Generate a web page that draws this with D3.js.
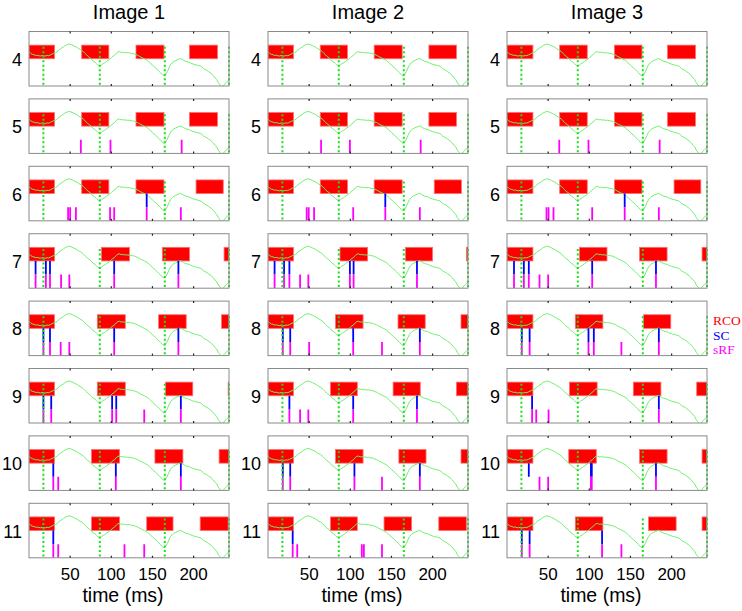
<!DOCTYPE html>
<html>
<head>
<meta charset="utf-8">
<script src="https://cdn.jsdelivr.net/npm/d3@7"></script>
<style>
  body { margin: 0; background: #fff; }
  svg { display: block; font-family: "Liberation Sans", Arial, sans-serif; }
</style>
</head>
<body>
<div id="chart"></div>
<script>
// panel rows (labels) and columns (titles)
var rows = [4, 5, 6, 7, 8, 9, 10, 11];
var images = ["Image 1", "Image 2", "Image 3"];
var xTicks = [50, 100, 150, 200];

// green reference waveform (same in every panel)
var waveT = [0, 2, 4, 6, 8, 10, 12, 14, 16, 18, 20, 22, 24, 26, 28, 30, 32, 34, 36, 38, 40, 42, 44, 46, 48, 50, 52, 54, 56, 58, 60, 62, 64, 66, 68, 70, 72, 74, 76, 78, 80, 82, 84, 86, 88, 90, 92, 94, 96, 98, 100, 102, 104, 106, 108, 110, 112, 114, 116, 118, 120, 122, 124, 126, 128, 130, 132, 134, 136, 138, 140, 142, 144, 146, 148, 150, 152, 154, 156, 158, 160, 162, 164, 166, 168, 170, 172, 174, 176, 178, 180, 182, 184, 186, 188, 190, 192, 194, 196, 198, 200, 202, 204, 206, 208, 210, 212, 214, 216, 218, 220, 222, 224, 226, 228, 230, 232, 234, 236, 238, 240, 243];
var waveV = [0.63, 0.60, 0.58, 0.575, 0.56, 0.565, 0.555, 0.55, 0.56, 0.555, 0.55, 0.56, 0.555, 0.57, 0.585, 0.60, 0.61, 0.625, 0.66, 0.68, 0.70, 0.72, 0.745, 0.755, 0.77, 0.765, 0.755, 0.74, 0.725, 0.71, 0.69, 0.67, 0.655, 0.63, 0.60, 0.57, 0.54, 0.52, 0.49, 0.455, 0.44, 0.41, 0.38, 0.37, 0.385, 0.41, 0.425, 0.45, 0.47, 0.49, 0.52, 0.545, 0.565, 0.60, 0.625, 0.63, 0.615, 0.62, 0.61, 0.615, 0.605, 0.61, 0.60, 0.595, 0.59, 0.575, 0.565, 0.545, 0.53, 0.515, 0.50, 0.485, 0.47, 0.44, 0.41, 0.385, 0.355, 0.33, 0.30, 0.27, 0.24, 0.205, 0.185, 0.205, 0.26, 0.33, 0.39, 0.425, 0.45, 0.465, 0.48, 0.49, 0.505, 0.49, 0.47, 0.455, 0.445, 0.44, 0.425, 0.41, 0.40, 0.39, 0.385, 0.375, 0.37, 0.35, 0.32, 0.30, 0.29, 0.265, 0.245, 0.22, 0.19, 0.15, 0.12, 0.06, 0.02, -0.01, 0.0, 0.04, 0.07, 0.11];

// green dotted markers
var markerT = [17.5, 86, 165, 243];

// RCO intervals [start, end] per row
var rcoImage1 = [
  [[0,31],[64,97],[130,164],[195,229]],
  [[0,31],[64,97],[130,164],[195,229]],
  [[0,31],[64,97],[130,164],[203,236]],
  [[0,31],[88,122],[162,195],[237,243]],
  [[0,31],[83,117],[157.5,191],[234,243]],
  [[0,31],[83,117],[166,199],[242,243]],
  [[0,31],[76,110],[153,187],[231,243]],
  [[0,31],[76,110],[143,175],[208,242]]
];
var rcoImage2 = [
  [[0,31],[63.5,96.5],[129,163],[195.5,229]],
  [[0,31],[63.5,96.5],[129,163],[195.5,229]],
  [[0,31],[63.5,96.5],[129,163],[202,235]],
  [[0,31],[87.5,121],[167,200],[241,243]],
  [[0,31],[82,115.5],[158,191],[234.5,243]],
  [[0,31],[76,108.5],[152,185],[229,243]],
  [[0,31],[82,115.5],[159,192],[234.5,243]],
  [[0,31],[76,108.5],[141,174.5],[207.5,241]]
];
var rcoImage3 = [
  [[0,31.5],[64,97.5],[130.5,164],[195,229]],
  [[0,31.5],[64,97.5],[130.5,164],[195,229]],
  [[0,31.5],[64,97.5],[130.5,164],[203,235.5]],
  [[0,31.5],[88,121.5],[161,194.5],[237,243]],
  [[0,31.5],[83,116.5],[166,199]],
  [[0,31.5],[76,109.5],[153.5,187],[230.5,243]],
  [[0,31.5],[75,108.5],[161,194.5],[237,243]],
  [[0,31.5],[83,116.5],[172,205.5],[237,243]]
];

// SC spike times per row
var scImage1 = [[], [], [143], [8,20.5,25.5,103.5,181.5], [17.5,25.5,103.5,181.5], [17.5,27,101,106,184.5], [29.5,105.5,184.5], [29.5]];
var scImage2 = [[], [], [142.5], [8,19.5,26,99.5,104,181], [18,27,103.5,184.5], [26,103.5,181], [18,27,105,184.5], [30]];
var scImage3 = [[], [], [143], [8.5,20.5,26.5,103.5,181], [18,27.5,99,105.5,184.5], [30.5,184.5], [26.5,102,103,181], [18,27.5,115.5]];

// sRF spike times per row
var srfImage1 = [[], [63,99,185.5], [47.5,50,57,98.5,103.5,143,184.5], [8,20.5,25.5,39,49,103.5,181.5], [17.5,25.5,38.5,49,103.5,181.5], [17.5,27,101,106,140,184.5], [29.5,35.5,105.5,184.5], [29.5,35.5,116,140]];
var srfImage2 = [[], [64.5,99.5,185.5], [47,49.5,56,103.5,142.5,184.5], [8,19.5,26,39,49,99.5,104,181], [18,27,50,103.5,138.5,184.5], [26,39,49,103.5,181], [18,27,105,138.5,184.5], [30,35.5,114,116.5,138.5]];
var srfImage3 = [[], [63.5,99,185.5], [48,50.5,56.5,103.5,143,184.5], [8.5,20.5,26.5,39.5,50,103.5,181], [18,27.5,99,105.5,139,184.5], [30.5,35.5,50.5,184.5], [39.5,50,102,103,181], [18,27.5,115.5,139]];

var legendItems = [["RCO", "#ff0000"], ["SC", "#0000ff"], ["sRF", "#ff00ff"]];

var rco = [rcoImage1, rcoImage2, rcoImage3],
    sc = [scImage1, scImage2, scImage3],
    srf = [srfImage1, srfImage2, srfImage3];

var svg_width = 742, svg_height = 611,
    col_x = [29, 268, 507],
    panel_w = 200,
    top0 = 31.5,
    row_step = 67.4,
    panel_h = 54.5;

var svg = d3.select("#chart").append("svg")
  .attr("width", svg_width)
  .attr("height", svg_height);

var x = d3.scaleLinear().domain([0, 243]).range([0, panel_w]);
var y = d3.scaleLinear().domain([0, 1]).range([panel_h, 0]);

var wave = d3.line()
  .x(function (d) { return x(d[0]); })
  .y(function (d) { return y(d[1]); });
var waveData = waveT.map(function (t, i) { return [t, waveV[i]]; });

svg.append("defs").append("clipPath").attr("id", "panel-clip")
  .append("rect").attr("width", panel_w).attr("height", panel_h);

images.forEach(function (title, c) {
  svg.append("text")
    .attr("x", col_x[c] + panel_w / 2)
    .attr("y", 19)
    .attr("text-anchor", "middle")
    .style("font-size", "20px")
    .text(title);

  rows.forEach(function (rowLabel, r) {
    var g = svg.append("g")
      .attr("transform", "translate(" + col_x[c] + "," + (top0 + r * row_step) + ")");

    g.append("text")
      .attr("x", -7)
      .attr("y", panel_h / 2 + 7)
      .attr("text-anchor", "end")
      .style("font-size", "18px")
      .text(rowLabel);

    var inner = g.append("g").attr("clip-path", "url(#panel-clip)");

    inner.selectAll("rect.rco")
      .data(rco[c][r]).enter().append("rect")
      .attr("class", "rco")
      .attr("x", function (d) { return x(d[0]); })
      .attr("width", function (d) { return x(d[1]) - x(d[0]); })
      .attr("y", y(0.75))
      .attr("height", y(0.5) - y(0.75))
      .attr("fill", "#ff0000")
      .attr("stroke", "#ff7070")
      .attr("stroke-width", 0.8);

    inner.append("path")
      .datum(waveData)
      .attr("d", wave)
      .attr("fill", "none")
      .attr("stroke", "#6cf06c")
      .attr("stroke-width", 1);

    inner.selectAll("line.sc")
      .data(sc[c][r]).enter().append("line")
      .attr("x1", function (d) { return x(d); })
      .attr("x2", function (d) { return x(d); })
      .attr("y1", y(0.5)).attr("y2", y(0.25))
      .attr("stroke", "#0000ff")
      .attr("stroke-width", 1.8);

    inner.selectAll("line.srf")
      .data(srf[c][r]).enter().append("line")
      .attr("x1", function (d) { return x(d); })
      .attr("x2", function (d) { return x(d); })
      .attr("y1", y(0.25)).attr("y2", y(0))
      .attr("stroke", "#ff00ff")
      .attr("stroke-width", 1.8);

    g.selectAll("line.marker")
      .data(markerT).enter().append("line")
      .attr("x1", function (d) { return x(d); })
      .attr("x2", function (d) { return x(d); })
      .attr("y1", y(0.72)).attr("y2", y(0))
      .attr("stroke", "#19e019")
      .attr("stroke-width", 2)
      .attr("stroke-dasharray", "2,2.5");

    g.append("rect")
      .attr("width", panel_w).attr("height", panel_h)
      .attr("fill", "none")
      .attr("stroke", "#8a8a8a")
      .attr("stroke-width", 1);

    g.selectAll("line.tick-top")
      .data(xTicks).enter().append("line")
      .attr("x1", function (d) { return x(d); })
      .attr("x2", function (d) { return x(d); })
      .attr("y1", 0).attr("y2", 2)
      .attr("stroke", "#222").attr("stroke-width", 1.2);
    g.selectAll("line.tick-bottom")
      .data(xTicks).enter().append("line")
      .attr("x1", function (d) { return x(d); })
      .attr("x2", function (d) { return x(d); })
      .attr("y1", panel_h - 2).attr("y2", panel_h)
      .attr("stroke", "#222").attr("stroke-width", 1.2);

    if (r == rows.length - 1) {
      g.selectAll("text.tick")
        .data(xTicks).enter().append("text")
        .attr("x", function (d) { return x(d); })
        .attr("y", panel_h + 22)
        .attr("text-anchor", "middle")
        .style("font-size", "17px")
        .text(function (d) { return d; });
      g.append("text")
        .attr("x", panel_w / 2 - 6)
        .attr("y", panel_h + 44.5)
        .attr("text-anchor", "middle")
        .style("font-size", "19.5px")
        .text("time (ms)");
    }
  });
});

svg.selectAll("text.legend")
  .data(legendItems).enter().append("text")
  .attr("x", 713)
  .attr("y", function (d, i) { return 325 + i * 14.5; })
  .style("font-family", "'Liberation Serif', 'Times New Roman', serif")
  .style("font-size", "13.5px")
  .attr("fill", function (d) { return d[1]; })
  .text(function (d) { return d[0]; });
</script>
</body>
</html>
